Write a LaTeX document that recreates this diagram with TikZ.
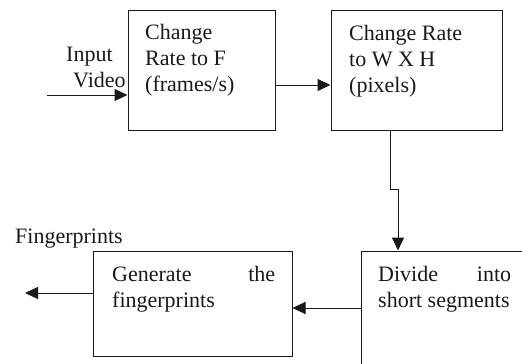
\documentclass[tikz,border=0pt]{standalone}
\usepackage{fontspec}
\setmainfont{Liberation Serif}
\usetikzlibrary{arrows.meta}
\begin{document}
\begin{tikzpicture}[x=1pt,y=-1pt,
  box/.style={draw=black!90,line width=1pt,rectangle,inner sep=0pt},
  lbl/.style={inner sep=0pt,align=left,anchor=base west,font=\fontsize{22}{26}\selectfont,text=black!90},
  conn/.style={draw=black!90,line width=1pt,-{Triangle[length=13pt,width=12pt]}}]
\useasboundingbox (0,0) rectangle (522,364);
\clip (0,0) rectangle (522,364);
% boxes
\node[box,minimum width=147pt,minimum height=120pt] (b1) at (201.5,70) {};
\node[box,minimum width=171pt,minimum height=120pt] (b2) at (416.5,70) {};
\node[box,minimum width=190pt,minimum height=130pt] (b3) at (456,316) {};
\node[box,minimum width=199pt,minimum height=105pt] (b4) at (192.5,303.5) {};
% texts (anchored at the baseline of their last line)
\node[lbl] (t1) at (145,91) {Change\\Rate to F\\(frames/s)};
\node[lbl] (t2) at (349,92) {Change Rate\\to W X H\\(pixels)};
\node[lbl] (t3) at (378,307) {\makebox[133pt][s]{Divide into}\\short segments};
\node[lbl] (t4) at (112,307) {\makebox[163pt][s]{Generate the}\\fingerprints};
\node[lbl] (tin) at (66,87) {Input\\\hspace*{7pt}Video};
\node[lbl] (tfp) at (15,243) {Fingerprints};
% connectors
\coordinate (inStart) at (47,95);
\coordinate (outEnd) at (25,293);
\coordinate (j1) at (390,189);
\coordinate (j2) at (398,189);
\draw[conn] (inStart) -- (inStart -| b1.west);
\draw[conn] (b1.east |- 0,85) -- (b2.west |- 0,85);
\draw[conn] (b2.south -| j1) -- (j1) -- (j2) -- (b3.north -| j2);
\draw[conn] (b3.west |- 0,308) -- (b4.east |- 0,308);
\draw[conn] (b4.west |- outEnd) -- (outEnd);
\end{tikzpicture}
\end{document}
